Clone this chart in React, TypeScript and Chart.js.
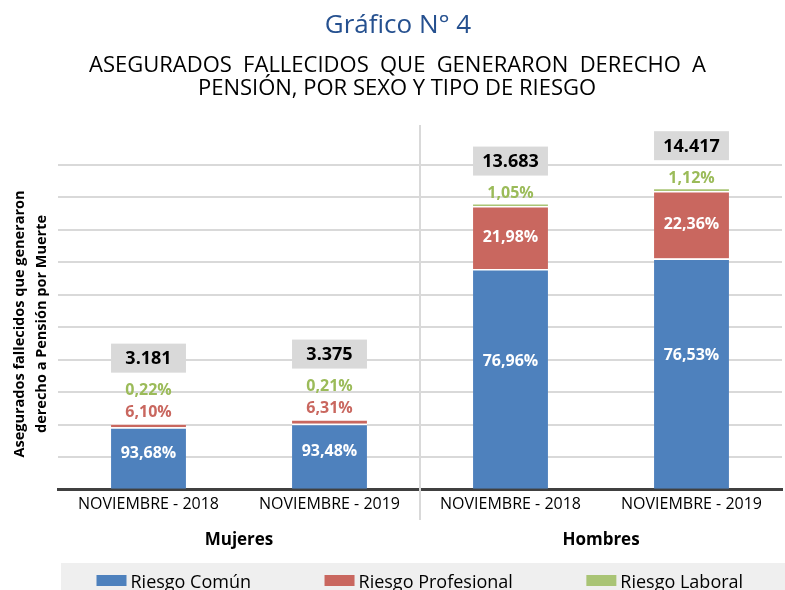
import { useEffect, useRef } from 'react';
import { Chart, registerables } from 'chart.js';

Chart.register(...registerables);

// ---------- data ----------
const categories = ['NOVIEMBRE - 2018', 'NOVIEMBRE - 2019', 'NOVIEMBRE - 2018', 'NOVIEMBRE - 2019'];
const groupNames = ['Mujeres', 'Hombres'];
const seriesNames = ['Riesgo Común', 'Riesgo Profesional', 'Riesgo Laboral'];
const riesgoComun = [2980, 3155, 10531, 11033];
const riesgoProfesional = [194, 213, 3008, 3223];
const riesgoLaboral = [7, 7, 144, 161];
const chartTitle = 'Gráfico N° 4';
const subtitleLines = ['ASEGURADOS FALLECIDOS QUE GENERARON DERECHO A', 'PENSIÓN, POR SEXO Y TIPO DE RIESGO'];
const yTitleLines = ['Asegurados fallecidos que generaron', 'derecho a Pensión por Muerte'];
const yMax = 15500;
const yStep = 1550;

// ---------- styles ----------
const BLUE = '#4e81bd';
const RED = '#c9675f';
const GREEN = '#a9c475';
const RED_TXT = '#c9675f';
const GREEN_TXT = '#9bbb59';
const GRID = '#d9d9d9';
const FONT = '"Open Sans", "DejaVu Sans", sans-serif';

const fmtPct = (v: number, t: number) => (v / t * 100).toFixed(2).replace('.', ',') + '%';
const fmtTotal = (n: number) => String(n).replace(/\B(?=(\d{3})+(?!\d))/g, '.');

const decorPlugin = {
  id: 'decor',
  beforeDatasetsDraw(chart: any) {
    const { ctx, scales } = chart;
    const xs = scales.x;
    const sepX = (xs.getPixelForValue(1) + xs.getPixelForValue(2)) / 2;
    ctx.save();
    ctx.strokeStyle = GRID;
    ctx.lineWidth = 2;
    ctx.beginPath();
    ctx.moveTo(sepX, 125);
    ctx.lineTo(sepX, 520);
    ctx.stroke();
    ctx.restore();
  },
  afterDatasetsDraw(chart: any) {
    const { ctx } = chart;
    const metas = [0, 1, 2].map((i) => chart.getDatasetMeta(i));
    ctx.save();
    ctx.textAlign = 'center';
    ctx.textBaseline = 'middle';
    for (let i = 0; i < categories.length; i++) {
      const vals = [riesgoComun[i], riesgoProfesional[i], riesgoLaboral[i]];
      const total = vals[0] + vals[1] + vals[2];
      const b0 = metas[0].data[i];
      const b1 = metas[1].data[i];
      const b2 = metas[2].data[i];
      const top = b2.y;
      ctx.font = `bold 16px ${FONT}`;
      // Riesgo Común inside
      ctx.fillStyle = '#ffffff';
      ctx.fillText(fmtPct(vals[0], total), b0.x, b0.y + 0.42 * (b0.base - b0.y));
      // Riesgo Profesional
      const h1 = b1.base - b1.y;
      let gY: number;
      if (h1 > 24) {
        ctx.fillStyle = '#ffffff';
        ctx.fillText(fmtPct(vals[1], total), b1.x, (b1.y + b1.base) / 2);
        gY = top - 9.5;
      } else {
        const rY = top - 11;
        ctx.fillStyle = RED_TXT;
        ctx.fillText(fmtPct(vals[1], total), b1.x, rY);
        gY = rY - 21.5;
      }
      // Riesgo Laboral
      ctx.fillStyle = GREEN_TXT;
      ctx.fillText(fmtPct(vals[2], total), b2.x, gY);
      // Total box
      const bc = gY - 32.5;
      const w = b2.width;
      ctx.fillStyle = GRID;
      ctx.fillRect(b2.x - w / 2, bc - 14.5, w, 29);
      ctx.fillStyle = '#000000';
      ctx.font = `bold 18px ${FONT}`;
      ctx.fillText(fmtTotal(total), b2.x, bc + 1);
    }
    ctx.restore();
  },
  afterDraw(chart: any) {
    const { ctx, scales, width } = chart;
    const xs = scales.x;
    ctx.save();
    // Title
    ctx.textAlign = 'center';
    ctx.textBaseline = 'alphabetic';
    ctx.fillStyle = '#25508f';
    ctx.font = `26px ${FONT}`;
    ctx.fillText(chartTitle, 398, 33);
    // Subtitle: first line justified, second centered
    ctx.fillStyle = '#000000';
    ctx.font = `22px ${FONT}`;
    const words = subtitleLines[0].split(' ');
    const widths = words.map((w) => ctx.measureText(w).width);
    const left = 89, right = 706;
    const gap = (right - left - widths.reduce((a, b) => a + b, 0)) / (words.length - 1);
    ctx.textAlign = 'left';
    let cx = left;
    words.forEach((w, k) => {
      ctx.fillText(w, cx, 72);
      cx += widths[k] + gap;
    });
    ctx.textAlign = 'center';
    ctx.fillText(subtitleLines[1], 397, 95);
    // Group labels
    ctx.font = `bold 17px ${FONT}`;
    for (let g = 0; g < groupNames.length; g++) {
      const gx = (xs.getPixelForValue(g * 2) + xs.getPixelForValue(g * 2 + 1)) / 2;
      ctx.fillText(groupNames[g], gx, 545);
    }
    // Y title
    ctx.save();
    ctx.translate(0, 324);
    ctx.rotate(-Math.PI / 2);
    ctx.font = `bold 14.5px ${FONT}`;
    ctx.textBaseline = 'middle';
    ctx.fillText(yTitleLines[0], 0, 20);
    ctx.fillText(yTitleLines[1], 0, 41.5);
    ctx.restore();
    // Legend
    ctx.fillStyle = '#efefef';
    ctx.fillRect(61, 563, width - 61, 30);
    ctx.font = `18px ${FONT}`;
    ctx.textAlign = 'left';
    ctx.textBaseline = 'alphabetic';
    let lx = 96.5;
    chart.data.datasets.forEach((ds: any) => {
      ctx.fillStyle = ds.backgroundColor;
      ctx.fillRect(lx, 575, 30, 11);
      ctx.fillStyle = '#000000';
      ctx.fillText(ds.label, lx + 34, 588);
      lx += 34 + ctx.measureText(ds.label).width + 73.5;
    });
    ctx.restore();
  },
};

export default function App() {
  const ref = useRef<HTMLCanvasElement | null>(null);
  useEffect(() => {
    if (!ref.current) return;
    const border = { top: 1.5, left: 0, right: 0, bottom: 0 };
    const chart = new Chart(ref.current, {
      type: 'bar',
      data: {
        labels: categories,
        datasets: [
          { label: seriesNames[0], data: riesgoComun, backgroundColor: BLUE, borderColor: '#ffffff', borderWidth: border },
          { label: seriesNames[1], data: riesgoProfesional, backgroundColor: RED, borderColor: '#ffffff', borderWidth: border },
          { label: seriesNames[2], data: riesgoLaboral, backgroundColor: GREEN, borderColor: '#ffffff', borderWidth: border },
        ] as any,
      },
      options: {
        animation: false,
        responsive: false,
        devicePixelRatio: 1,
        layout: { padding: { top: 165, left: 58, right: 3, bottom: 71 } },
        datasets: { bar: { categoryPercentage: 1, barPercentage: 0.414 } },
        plugins: { legend: { display: false }, tooltip: { enabled: false }, title: { display: false } },
        scales: {
          x: {
            stacked: true,
            grid: { display: false, drawTicks: false, tickLength: 0 },
            border: { color: '#404040', width: 3 },
            ticks: { font: { family: FONT, size: 16 }, color: '#000000', padding: 5, maxRotation: 0, autoSkip: false },
          },
          y: {
            stacked: true,
            min: 0,
            max: yMax,
            ticks: { display: false, stepSize: yStep },
            grid: { color: GRID, lineWidth: 2, drawTicks: false },
            border: { display: false },
          },
        },
      } as any,
      plugins: [decorPlugin],
    });
    return () => chart.destroy();
  }, []);
  return (
    <div style={{ position: 'absolute', left: 0, top: 0, width: 785, height: 590, background: '#ffffff' }}>
      <canvas ref={ref} width={785} height={590} style={{ width: 785, height: 590, display: 'block' }} />
    </div>
  );
}
